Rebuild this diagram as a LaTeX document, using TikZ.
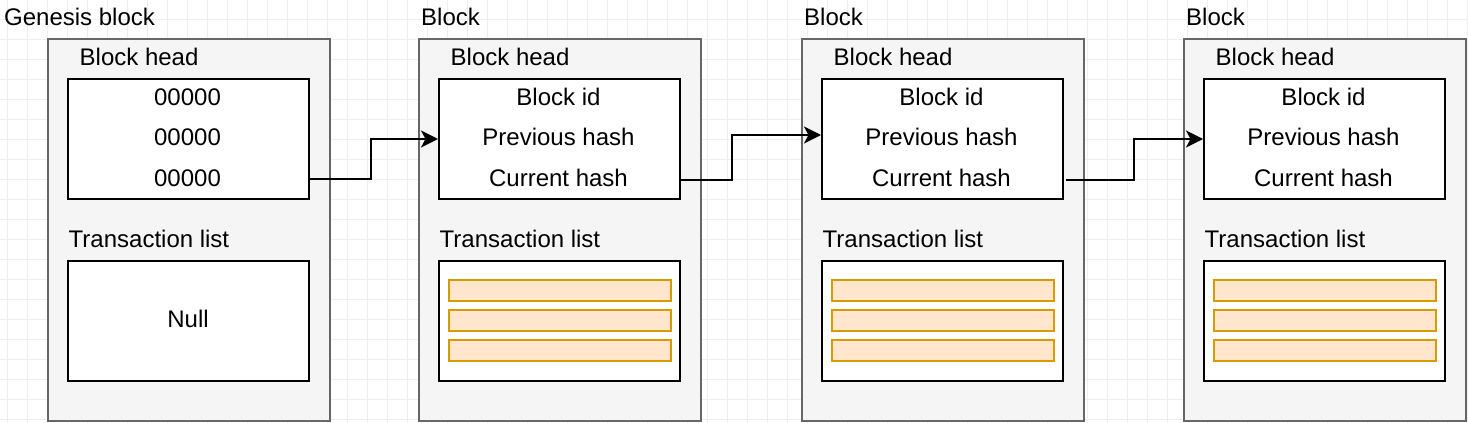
\documentclass[tikz,border=0pt]{standalone}
\usepackage{fontspec}
\setmainfont{Liberation Sans}
\usetikzlibrary{arrows.meta}
\definecolor{contfill}{HTML}{F5F5F5}
\definecolor{contdraw}{HTML}{666666}
\definecolor{txfill}{HTML}{FFE6CC}
\definecolor{txdraw}{HTML}{D79B00}
\definecolor{gridc}{HTML}{EEEEEE}
\tikzset{
 container/.style={draw=contdraw, fill=contfill, line width=2pt, anchor=north west, minimum width=282pt, minimum height=382pt, inner sep=0},
 whitebox/.style={draw=black, fill=white, line width=2pt, anchor=north west, minimum width=241pt, minimum height=120pt, inner sep=0},
 txbar/.style={draw=txdraw, fill=txfill, line width=2pt, anchor=north west, minimum width=222pt, minimum height=21pt, inner sep=0},
 lbl/.style={font=\fontsize{24}{28}\selectfont, inner sep=0, anchor=base west, text=black},
 ctr/.style={lbl, anchor=base},
 conn/.style={draw=black, line width=2pt, -{Stealth[length=17pt,width=17pt,inset=4.5pt]}},
 gridline/.style={draw=gridc, line width=1pt}
}
\newcommand{\myblock}[7]{%
 \node[container] (#1cont) at (#2,38) {};
 \node[lbl] (#1title) at (#3,25) {#4};
 \node[lbl] (#1headlbl) at (#2+32.5,65) {Block head};
 \node[whitebox] (#1head) at (#2+20,78) {};
 \node[ctr] (#1l1) at (#2+140.5,105) {#5};
 \node[ctr] (#1l2) at (#2+140.5,145.5) {#6};
 \node[ctr] (#1l3) at (#2+140.5,186) {#7};
 \node[lbl] (#1txlbl) at (#2+21.5,247) {Transaction list};
 \node[whitebox] (#1tx) at (#2+20,259.5) {};
}
\begin{document}
\begin{tikzpicture}[x=1pt,y=-1pt]
\useasboundingbox (0,0) rectangle (1468,423);
\fill[white] (0,0) rectangle (1468,423);
\foreach \gx in {7,27,...,1467} \draw[gridline] (\gx,0) -- (\gx,423);
\foreach \gy in {-0.5,19.5,...,419.5} \draw[gridline] (0,\gy) -- (1468,\gy);

\myblock{a}{47}{4}{Genesis block}{00000}{00000}{00000}
\myblock{b}{418}{421}{Block}{Block id}{Previous hash}{Current hash}
\myblock{c}{801}{804}{Block}{Block id}{Previous hash}{Current hash}
\myblock{d}{1183}{1186}{Block}{Block id}{Previous hash}{Current hash}

\node[ctr] (anull) at (188,327) {Null};
\foreach \p/\x in {b/418,c/801,d/1183} {
  \foreach \k/\yy in {1/279,2/309,3/339} {
    \node[txbar] (\p bar\k) at (\x+30,\yy) {};
  }
}

\draw[conn] ([yshift=-40pt]ahead.east) -- ++(61,0) |- (bhead.west);
\draw[conn] ([yshift=-41pt]bhead.east) -- ++(51,0) |- ([yshift=4pt]chead.west);
\draw[conn] ([xshift=2pt,yshift=-41pt]chead.east) -- ++(68,0) |- (dhead.west);
\end{tikzpicture}
\end{document}
